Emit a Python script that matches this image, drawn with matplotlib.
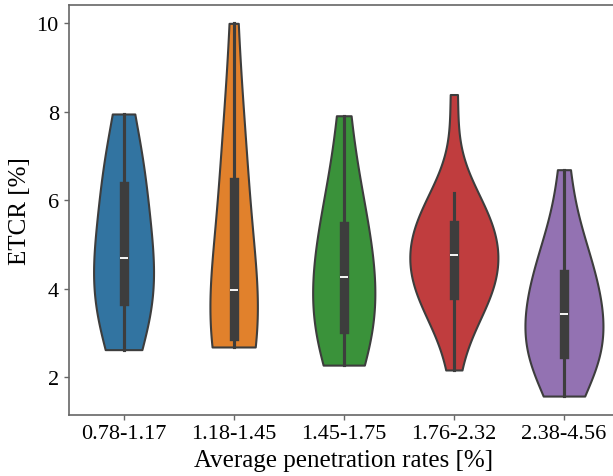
import matplotlib
matplotlib.use("Agg")
import matplotlib.pyplot as plt
import seaborn as sns
import pandas as pd

categories = ["0.78-1.17", "1.18-1.45", "1.45-1.75", "1.76-2.32", "2.38-4.56"]
g1 = [2.62, 3.0, 3.35, 3.62, 3.80, 4.2, 4.5, 4.70, 4.9, 5.3, 6.1, 6.56, 6.7, 6.9, 7.95]
g2 = [2.68, 2.72, 2.76, 2.8, 3.06, 3.2, 3.4, 3.98, 4.2, 5.0, 6.1, 6.72, 7.0, 7.8, 10.0]
g3 = [2.27, 2.6, 2.85, 3.0, 3.16, 3.6, 4.0, 4.26, 4.45, 4.75, 5.2, 5.62, 5.95, 6.6, 7.91]
g4 = [2.16, 3.45, 3.65, 3.75, 3.8, 3.85, 4.05, 4.25, 4.45, 4.6, 4.77, 4.9, 5.02,
      5.15, 5.3, 5.45, 5.6, 5.75, 5.95, 6.16, 8.39]
g5 = [1.57, 2.0, 2.25, 2.4, 2.48, 2.56, 2.75, 2.95, 3.15, 3.43, 3.6, 3.8, 4.0, 4.2,
      4.44, 4.7, 5.0, 5.5, 6.69]
groups = [g1, g2, g3, g4, g5]

xlabel = "Average penetration rates [%]"
ylabel = "ETCR [%]"

rows = []
for c, g in zip(categories, groups):
    for v in g:
        rows.append((c, v))
df = pd.DataFrame(rows, columns=["rate", "etcr"])

plt.rcParams["font.family"] = ["Liberation Serif", "DejaVu Serif"]

fig = plt.figure(figsize=(6.13, 4.77), dpi=100)
ax = fig.add_axes([68.5 / 613, (477 - 415.7) / 477, (619 - 68.5) / 613, 410.0 / 477])

sns.violinplot(data=df, x="rate", y="etcr", hue="rate", order=categories,
               hue_order=categories, cut=0, inner="box", legend=False,
               linewidth=1.5, bw_adjust=1.3, common_norm=True, ax=ax)

ax.set_xlabel(xlabel, fontsize=18)
ax.set_ylabel(ylabel, fontsize=18)
ax.tick_params(axis="both", labelsize=16, length=3.5, width=1, color="#666666")
ax.set_yticks([2, 4, 6, 8, 10])
for s in ax.spines.values():
    s.set_color("#666666")
    s.set_linewidth(1.2)

fig.savefig("out.png", dpi=100)
